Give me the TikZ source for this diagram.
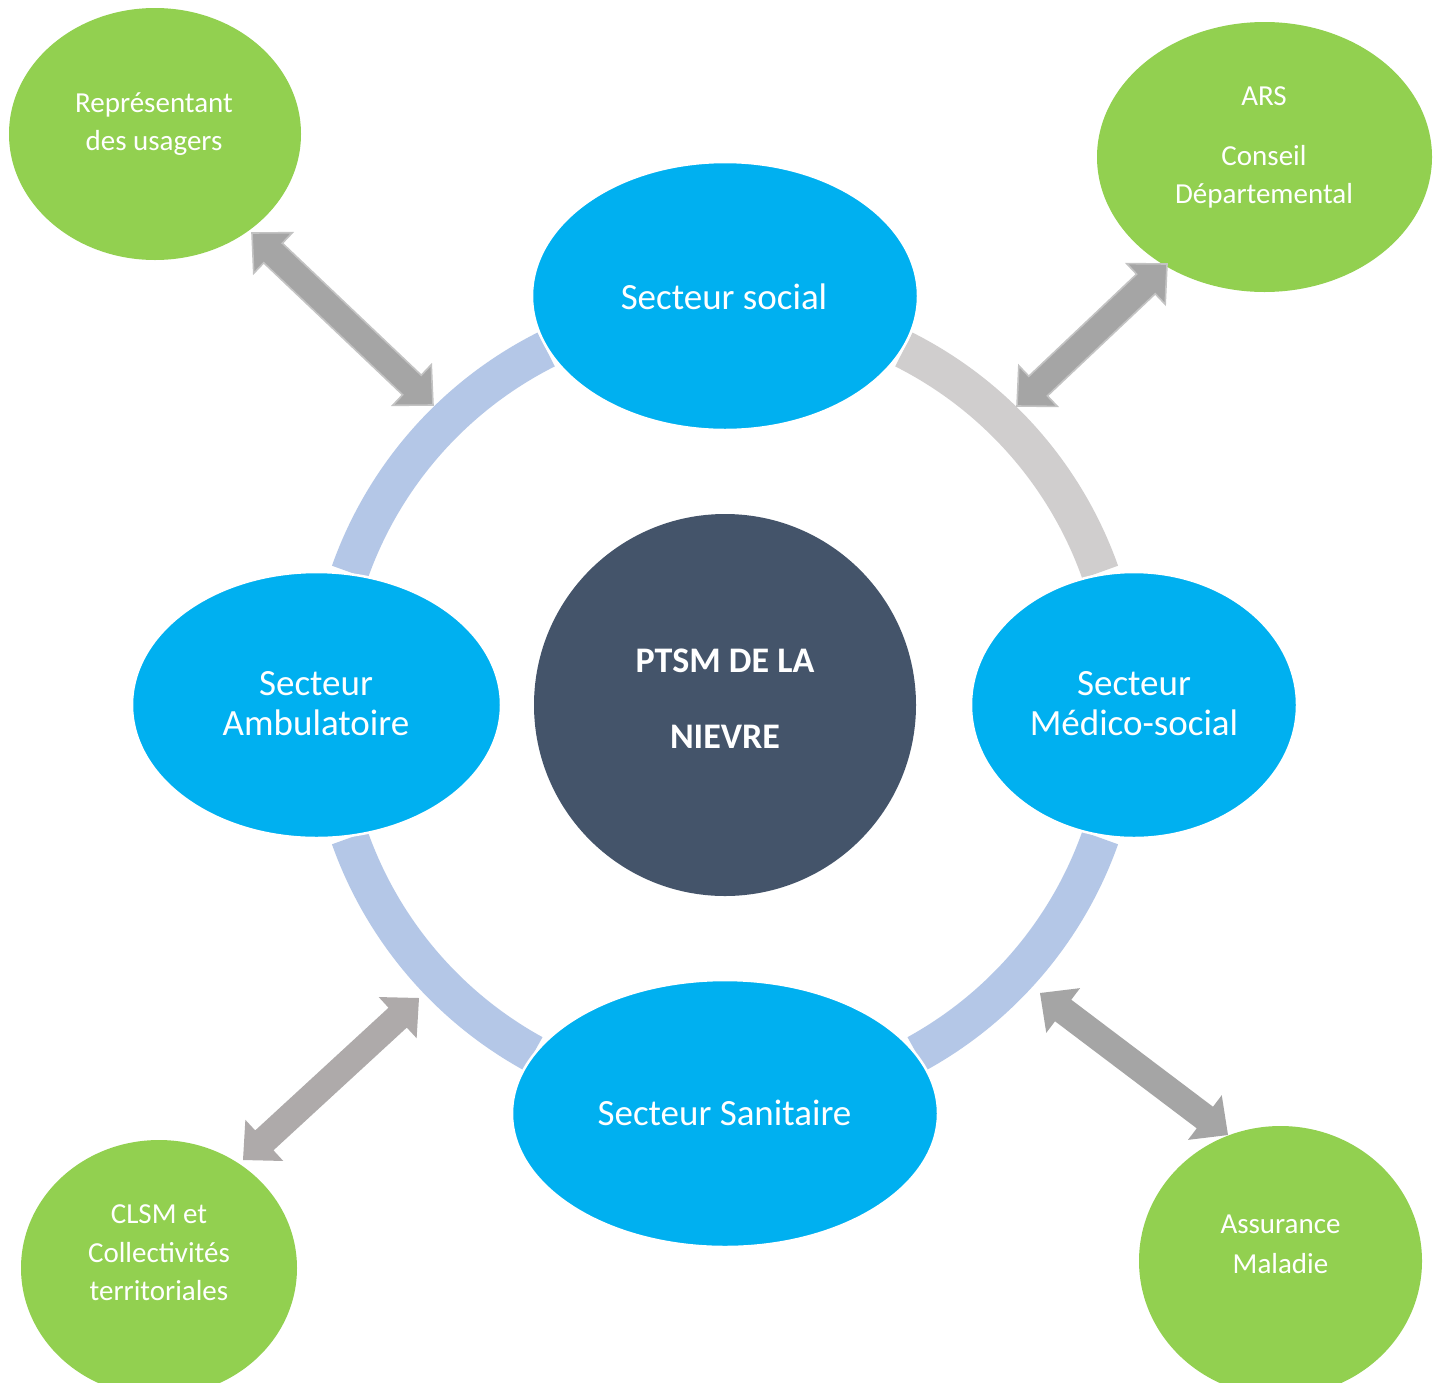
\documentclass[tikz,border=0pt]{standalone}
\usepackage{fontspec}
\setmainfont{Carlito}
\usetikzlibrary{calc,shapes.geometric}
\definecolor{blueE}{HTML}{00B0F0}
\definecolor{greenE}{HTML}{92D050}
\definecolor{coreC}{HTML}{44546A}
\definecolor{ringB}{HTML}{B4C7E7}
\definecolor{ringG}{HTML}{D0CECE}
\definecolor{arrA}{HTML}{A5A5A5}
\definecolor{arrB}{HTML}{AEAAAA}
\definecolor{arrEdge}{HTML}{C3C3C3}
\newcommand{\dblarrow}[3]{%
  \filldraw[#1] (#2)
   -- ($(#2)!29pt!(#3)!28pt!90:(#3)$)
   -- ($(#2)!29pt!(#3)!13.5pt!90:(#3)$)
   -- ($(#3)!29pt!(#2)!13.5pt!270:(#2)$)
   -- ($(#3)!29pt!(#2)!28pt!270:(#2)$)
   -- (#3)
   -- ($(#3)!29pt!(#2)!28pt!90:(#2)$)
   -- ($(#3)!29pt!(#2)!13.5pt!90:(#2)$)
   -- ($(#2)!29pt!(#3)!13.5pt!270:(#3)$)
   -- ($(#2)!29pt!(#3)!28pt!270:(#3)$)
   -- cycle;}
\tikzset{
  blueell/.style={ellipse, fill=blueE, draw=white, line width=2.5pt, inner sep=0pt, outer sep=0pt},
  greenell/.style={ellipse, fill=greenE, inner sep=0pt, outer sep=0pt},
  ringseg/.style={line width=38pt, line cap=butt},
  lbl/.style={text=white, inner sep=0pt, anchor=base},
  bigtxt/.style={lbl, font=\fontsize{37}{40}\selectfont},
  smalltxt/.style={lbl, font=\fontsize{29}{38}\selectfont},
  coretxt/.style={lbl, font=\bfseries\fontsize{36}{40}\selectfont},
  arrowout/.style={fill=arrA, draw=arrEdge, line width=1.6pt, line join=miter},
  arrowplain/.style={fill=#1, draw=none},
}
\begin{document}
\begin{tikzpicture}[x=1pt, y=-1pt]
\useasboundingbox (0,0) rectangle (1442,1382);
\clip (0,0) rectangle (1442,1382);
\fill[white] (0,0) rectangle (1442,1382);

% centre
\node[circle, fill=coreC, minimum size=382pt, inner sep=0pt] (core) at (725,705) {};

% ring segments
\draw[ringseg, ringB] ($(core.center)+(116.7:398pt)$) arc[start angle=116.7, end angle=160.5, radius=398pt];
\draw[ringseg, ringG] ($(core.center)+(19.5:398pt)$) arc[start angle=19.5, end angle=63.3, radius=398pt];
\draw[ringseg, ringB] ($(core.center)+(-61.2:398pt)$) arc[start angle=-61.2, end angle=-19.5, radius=398pt];
\draw[ringseg, ringB] ($(core.center)+(199.5:398pt)$) arc[start angle=199.5, end angle=241.2, radius=398pt];

% outer (green) ellipses
\node[greenell, minimum width=292pt, minimum height=252pt] (rep) at (155,134) {};
\node[greenell, minimum width=335pt, minimum height=270pt] (ars) at (1264.5,157) {};
\node[greenell, minimum width=276pt, minimum height=256pt] (clsm) at (159,1268) {};
\node[greenell, minimum width=283pt, minimum height=270pt] (assur) at (1280.5,1261) {};

% arrow end points
\coordinate (a1s) at (252,233);
\coordinate (a1e) at (433,405);
\coordinate (a2s) at (1167,264);
\coordinate (a2e) at (1017,406);
\coordinate (a3s) at (419,998);
\coordinate (a3e) at (243,1160);
\coordinate (a4s) at (1040,993);
\coordinate (a4e) at (1228,1135);

\dblarrow{arrowout}{a1s}{a1e}
\dblarrow{arrowout}{a2s}{a2e}
\dblarrow{arrowplain=arrB}{a3s}{a3e}
\dblarrow{arrowplain=arrA}{a4s}{a4e}

% sector ellipses
\node[blueell, minimum width=386pt, minimum height=268pt] (social) at (725,296) {};
\node[blueell, minimum width=369pt, minimum height=266pt] (ambu) at (316.5,705) {};
\node[blueell, minimum width=326pt, minimum height=266pt] (medico) at (1134,705) {};
\node[blueell, minimum width=426pt, minimum height=267pt] (sanit) at (725,1113.5) {};

% texts
\node[bigtxt] (tsocial) at (724,309) {Secteur social};
\node[bigtxt] (tambu1) at (316,695) {Secteur};
\node[bigtxt] (tambu2) at (316,735) {Ambulatoire};
\node[bigtxt] (tmed1) at (1134,695) {Secteur};
\node[bigtxt] (tmed2) at (1134,735) {Médico-social};
\node[bigtxt] (tsanit) at (724.5,1125) {Secteur Sanitaire};

\node[coretxt] (tcore1) at (725,672) {PTSM DE LA};
\node[coretxt] (tcore2) at (725,748) {NIEVRE};

\node[smalltxt] (trep1) at (154,112) {Représentant};
\node[smalltxt] (trep2) at (154,150) {des usagers};
\node[smalltxt] (tars1) at (1264,105) {ARS};
\node[smalltxt] (tars2) at (1264,165) {Conseil};
\node[smalltxt] (tars3) at (1264,203) {Départemental};
\node[smalltxt] (tclsm1) at (159,1223) {CLSM et};
\node[smalltxt] (tclsm2) at (159,1262) {Collectivités};
\node[smalltxt] (tclsm3) at (159,1300) {territoriales};
\node[smalltxt] (tass1) at (1280.5,1233) {Assurance};
\node[smalltxt] (tass2) at (1280.5,1273) {Maladie};
\end{tikzpicture}
\end{document}
